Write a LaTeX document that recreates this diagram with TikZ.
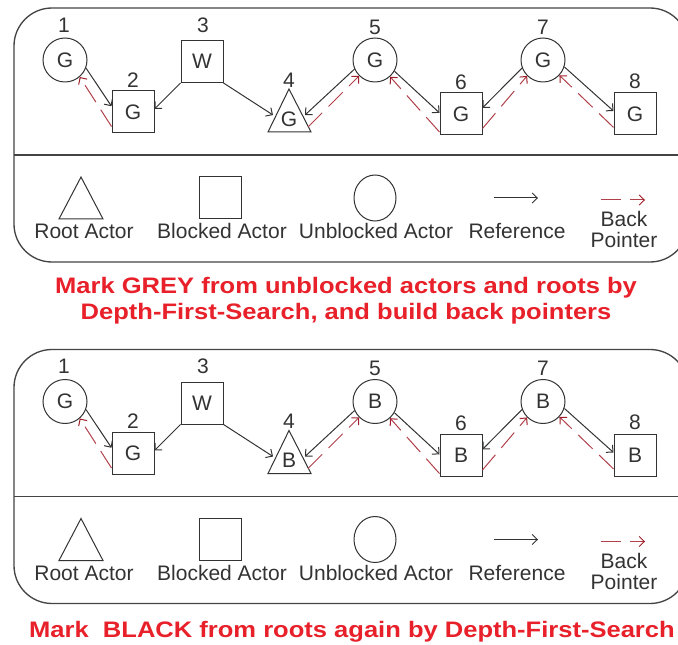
\documentclass[tikz,border=0pt]{standalone}
\usepackage{fontspec}
\setmainfont{Liberation Sans}
\newfontfamily\titlefont{Liberation Sans}[FakeStretch=1.14]
\usetikzlibrary{arrows.meta,shapes.geometric}
\newdimen\px \px=0.75pt
\definecolor{ink}{HTML}{333333}
\definecolor{framegray}{HTML}{444444}
\definecolor{backred}{HTML}{B0404A}
\definecolor{tipred}{HTML}{A01E2A}
\definecolor{titlered}{HTML}{E8202A}
\tikzset{
 lbl/.style={text=ink, inner sep=0pt, font=\fontsize{15.75}{18}\selectfont},
 circactor/.style={lbl, circle, draw=ink, line width=0.75pt, minimum size=44\px},
 ovalactor/.style={lbl, ellipse, draw=ink, line width=0.75pt, minimum width=42\px, minimum height=46\px},
 sqactor/.style={lbl, rectangle, draw=ink, line width=0.75pt, minimum size=42\px},
 triactor/.style={draw=ink, line width=0.75pt, line join=miter},
 refarrow/.style={draw=ink, line width=0.75pt, -{Straight Barb[length=3.8pt,width=7.5pt]}},
 backarrow/.style={draw=backred, line width=0.75pt, dash pattern=on 20\px off 9\px, -{Straight Barb[length=3.8pt,width=7.5pt,color=tipred]}},
 panelframe/.style={draw=framegray, line width=1pt},
 redtitle/.style={text=titlered, inner sep=0pt, font=\titlefont\bfseries\fontsize{16.8}{20}\selectfont},
}
\newcommand\actorpanel[3]{%
\begin{scope}[shift={(0,#3)}]
\draw[panelframe, rounded corners=38\px] (14,8) rectangle (688,262);
\draw[panelframe] (14,155) -- (688,155);
% actors
\node[circactor] (#1n1) at (65,60) {G};
\node[sqactor] (#1n2) at (133,112) {G};
\node[sqactor] (#1n3) at (202,61.5) {W};
\draw[triactor] (268,132) -- (289,89) -- (311,132) -- cycle;
\node[lbl] (#1n4) at (289,119) {#2};
\node[circactor] (#1n5) at (375,60) {#2};
\node[sqactor] (#1n6) at (461,114) {#2};
\node[circactor] (#1n7) at (543,60) {#2};
\node[sqactor] (#1n8) at (635,114) {#2};
% numbers
\node[lbl] (#1l1) at (64,25) {1};
\node[lbl] (#1l2) at (133,80) {2};
\node[lbl] (#1l3) at (203,25) {3};
\node[lbl] (#1l4) at (289,80) {4};
\node[lbl] (#1l5) at (375,27) {5};
\node[lbl] (#1l6) at (461,82) {6};
\node[lbl] (#1l7) at (543,27) {7};
\node[lbl] (#1l8) at (635,81) {8};
% triangle contact points
\coordinate (#1t4l) at (273,115);
\coordinate (#1t4r) at (305,115);
\coordinate (#1t4b) at (308,127);
% references and back pointers
\draw[refarrow] (#1n1.-21) -- (#1n2.165);
\draw[backarrow] (#1n2.214) -- (#1n1.-49);
\draw[refarrow] (#1n3.south west) -- (#1n2.8);
\draw[refarrow] (#1n3.south east) -- (#1t4l);
\draw[refarrow] (#1n5.204) -- (#1t4r);
\draw[backarrow] (#1t4b) -- (#1n5.225);
\draw[refarrow] (#1n5.-30) -- (#1n6.177);
\draw[backarrow] (#1n6.220) -- (#1n5.-48);
\draw[refarrow] (#1n7.201) -- (#1n6.16);
\draw[backarrow] (#1n6.-34) -- (#1n7.225);
\draw[refarrow] (#1n7.-18) -- (#1n8.172);
\draw[backarrow] (#1n8.212) -- (#1n7.-43);
% legend
\draw[triactor] (59,219) -- (81,177) -- (103,219) -- cycle;
\node[sqactor] (#1lsq) at (220,198) {};
\node[ovalactor] (#1lci) at (375,198) {};
\coordinate (#1ra) at (494,198);
\coordinate (#1rb) at (538,198);
\draw[refarrow] (#1ra) -- (#1rb);
\coordinate (#1ba) at (601,200);
\coordinate (#1bb) at (645,200);
\draw[backarrow] (#1ba) -- (#1bb);
\node[lbl, anchor=base] (#1tx1) at (84,239) {Root Actor};
\node[lbl, anchor=base] (#1tx2) at (222,239) {Blocked Actor};
\node[lbl, anchor=base] (#1tx3) at (376,239) {Unblocked Actor};
\node[lbl, anchor=base] (#1tx4) at (517,239) {Reference};
\node[lbl, anchor=base] (#1tx5) at (624,227) {Back};
\node[lbl, anchor=base] (#1tx6) at (624,248) {Pointer};
\end{scope}}
\begin{document}
\begin{tikzpicture}[x=0.75pt,y=-0.75pt]
\clip (0,0) rectangle (678,645);
\actorpanel{a}{G}{0}
\actorpanel{b}{B}{341.5}
\node[redtitle, anchor=base] (t1) at (346,294) {Mark GREY from unblocked actors and roots by};
\node[redtitle, anchor=base] (t2) at (346,320) {Depth-First-Search, and build back pointers};
\node[redtitle, anchor=base] (t3) at (352,637) {Mark\ \ BLACK from roots again by Depth-First-Search};
\end{tikzpicture}
\end{document}
